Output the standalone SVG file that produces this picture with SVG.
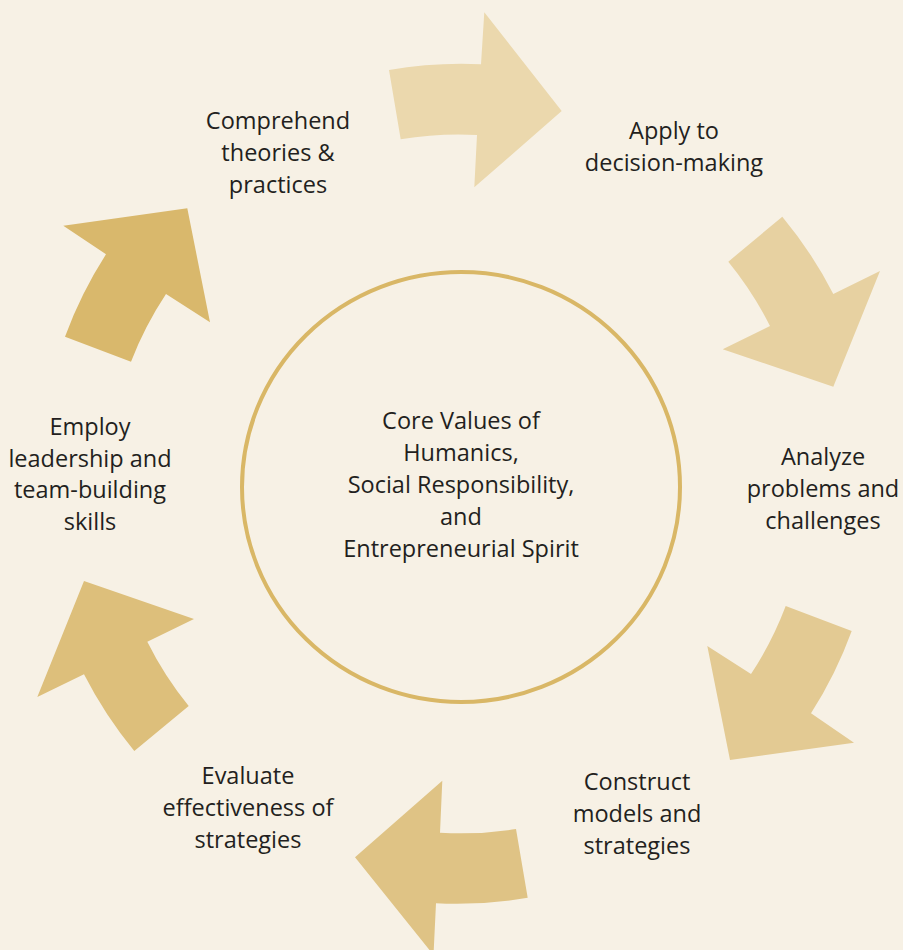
<svg xmlns="http://www.w3.org/2000/svg" width="903" height="950" viewBox="0 0 903 950">
<style>
.t{font-family:"Open Sans","Noto Sans","Liberation Sans",sans-serif;font-size:23.5px;fill:#231f20;text-anchor:middle}
.ring{fill:none;stroke:#d9b766;stroke-width:4}
</style>
<rect width="903" height="950" fill="#f7f1e5"/>
<g id="connectors">
<path fill="#ebd8ad" d="M389,70 A426,426 0 0 1 481,64.3 L484.3,12.3 L561.7,111 L474.3,187.3 L477,135 A355,355 0 0 0 400.7,139.3 Z"/>
<path fill="#e7d1a1" d="M782.3,216.7 A420,420 0 0 1 833.3,294 L880,271 L833.3,386.7 L722.7,349.3 L770,326 A349,349 0 0 0 728.3,261.7 Z"/>
<path fill="#e3ca93" d="M851.7,631 A417,417 0 0 1 811,713.3 L854,742.7 L730,760 L707.3,646 L751,674 A345,345 0 0 0 785.7,606 Z"/>
<path fill="#dfc385" d="M527.7,897.7 A417,417 0 0 1 436,903.3 L433.5,955 L355,857.3 L442.3,780.7 L440,832.7 A346,346 0 0 0 516,829 Z"/>
<path fill="#ddbf7b" d="M134.3,751 A420,420 0 0 1 84,674.3 L37.3,697 L84,581 L194,619 L147.3,641.7 A349,349 0 0 0 188.7,706 Z"/>
<path fill="#d9b86c" d="M65,336.7 A424,424 0 0 1 106,254.3 L63.3,225.7 L187.3,208.3 L210,322.3 L166,294 A353,353 0 0 0 131,361.7 Z"/>
</g>
<g id="core">
<ellipse class="ring" cx="461" cy="487" rx="219" ry="215"/>
<text class="t" x="461" y="429">Core Values of</text>
<text class="t" x="461" y="461">Humanics,</text>
<text class="t" x="461" y="493">Social Responsibility,</text>
<text class="t" x="461" y="525">and</text>
<text class="t" x="461" y="557">Entrepreneurial Spirit</text>
</g>
<g id="comprehend">
<text class="t" x="278" y="129">Comprehend</text>
<text class="t" x="278" y="161">theories &amp;</text>
<text class="t" x="278" y="193">practices</text>
</g>
<g id="apply">
<text class="t" x="674" y="139">Apply to</text>
<text class="t" x="674" y="171">decision-making</text>
</g>
<g id="analyze">
<text class="t" x="823" y="465">Analyze</text>
<text class="t" x="823" y="497">problems and</text>
<text class="t" x="823" y="529">challenges</text>
</g>
<g id="construct">
<text class="t" x="637" y="790">Construct</text>
<text class="t" x="637" y="822">models and</text>
<text class="t" x="637" y="854">strategies</text>
</g>
<g id="evaluate">
<text class="t" x="248" y="784">Evaluate</text>
<text class="t" x="248" y="816">effectiveness of</text>
<text class="t" x="248" y="848">strategies</text>
</g>
<g id="employ">
<text class="t" x="90" y="435">Employ</text>
<text class="t" x="90" y="467">leadership and</text>
<text class="t" x="90" y="498">team-building</text>
<text class="t" x="90" y="530">skills</text>
</g>
</svg>
